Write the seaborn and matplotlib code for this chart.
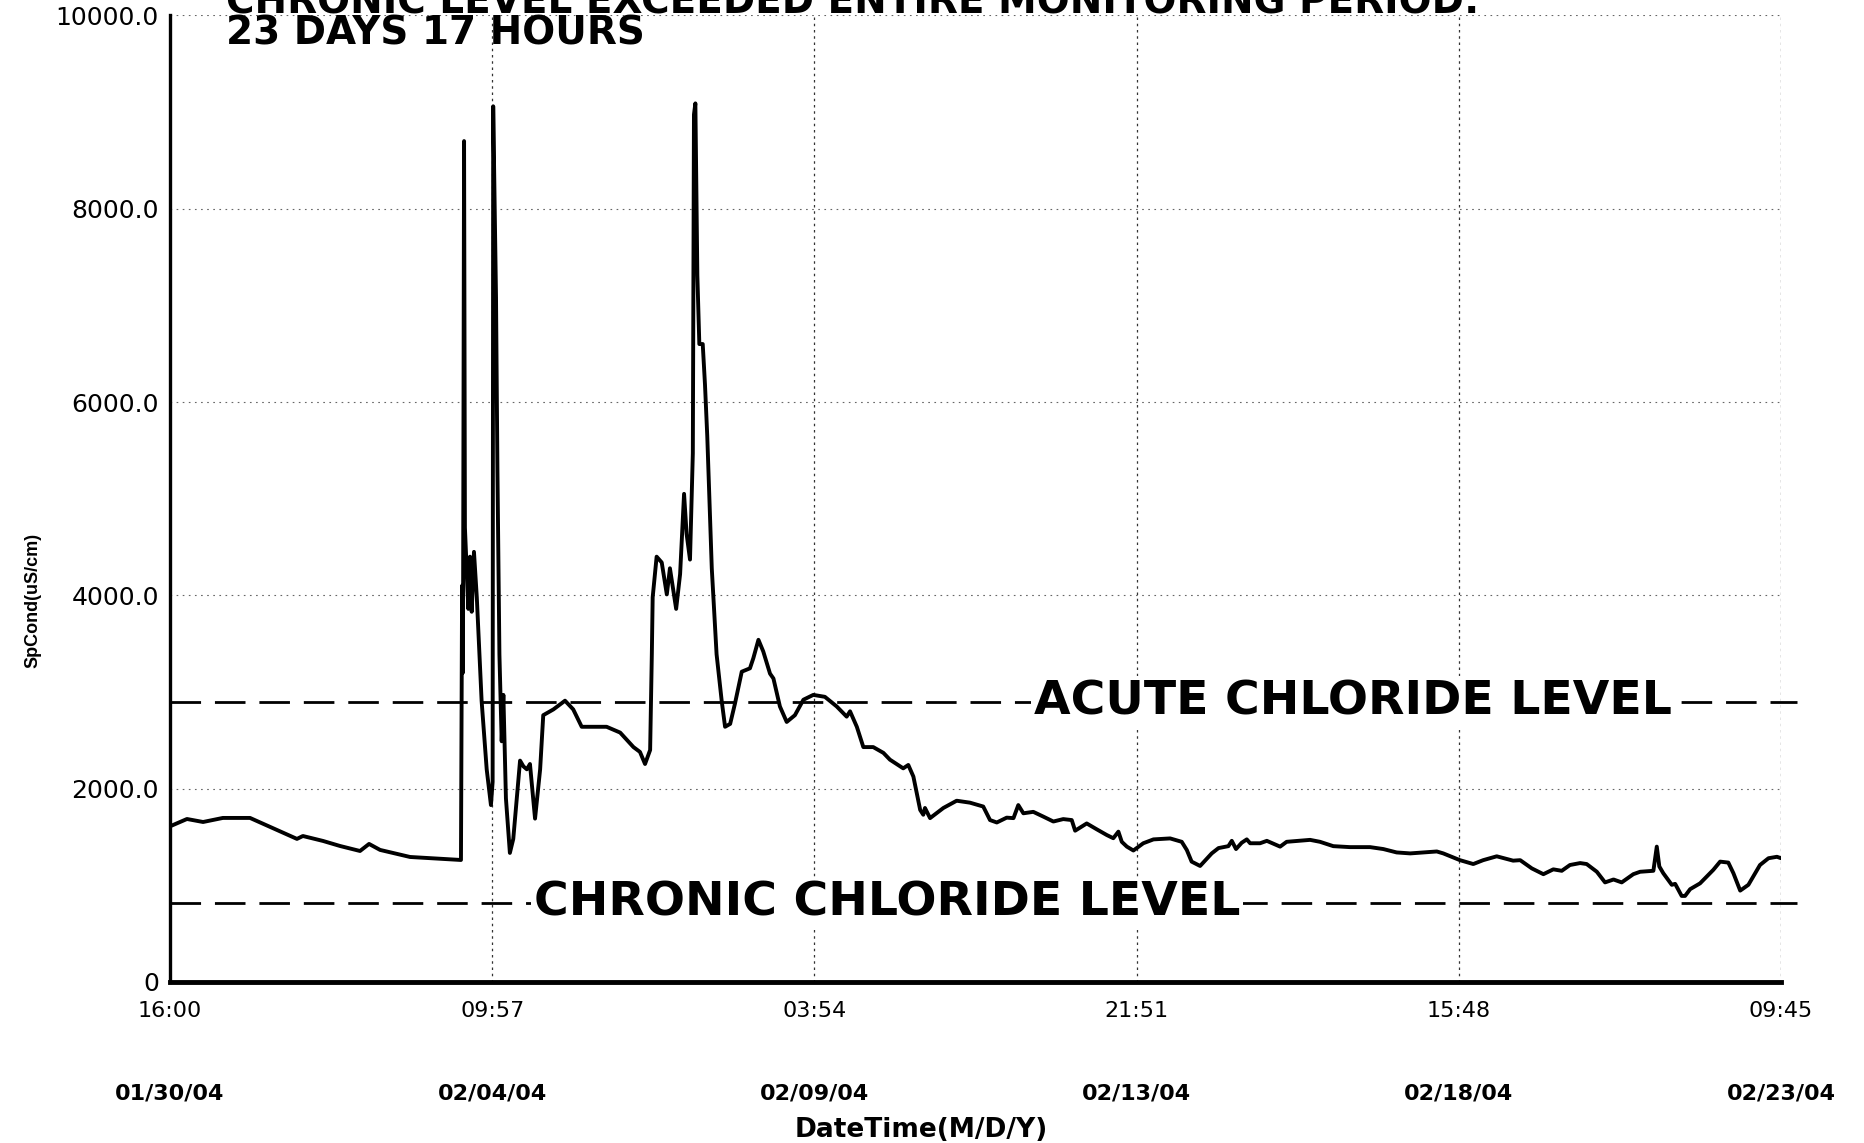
import numpy as np
import pandas as pd
import matplotlib
matplotlib.use("Agg")
import matplotlib.pyplot as plt
import matplotlib.dates as mdates
import seaborn as sns

# --- data (hours since 01/30/04 16:00, SpCond uS/cm) ---
START = "2004-01-30 16:00"
END = "2004-02-23 09:45"

hours = [
    0, 6.0, 11.7, 18.7, 28.3, 35.4, 44.9, 47.0, 54.1, 60.1, 67.2, 70.4, 74.3, 84.9, 96.6,
    102.9, 103.3, 103.6, 104.0, 104.3, 105.5, 106.1, 106.7, 107.5, 108.5, 110.2, 112.0, 113.5, 114.1,
    114.3, 115.3, 115.8, 116.5, 117.3, 117.9, 118.8, 120.2, 121.4, 123.8, 125.0, 126.2, 127.3, 129.1, 130.9, 132.0,
    135.6, 139.7, 142.6, 145.6, 149.7, 154.4, 159.2, 163.9, 166.2, 168.0, 169.8,
    170.4, 170.7, 172.1, 173.9, 175.7, 176.8, 179.0, 180.4, 181.8, 182.7, 183.9, 184.9, 185.3, 185.8, 186.5, 187.2, 188.4, 189.2, 190.0,
    191.6, 193.3, 195.1, 196.3, 198.1, 199.8, 202.2, 205.1, 206.3, 208.1, 209.8, 212.2, 213.4, 215.7, 218.1,
    221.0, 224.0, 227.5, 231.6, 235.8, 239.3, 240.5, 242.9, 245.2, 248.7, 252.3, 254.6, 259.3, 261.1, 262.9,
    265.3, 266.4, 267.0, 268.8, 273.5, 278.2, 282.9, 287.6, 290.0, 292.4, 295.9, 298.3, 300.0, 301.8, 305.3, 308.9, 312.4, 315.9, 318.9, 320.1,
    324.2, 327.7, 331.3, 333.6, 335.4, 336.6, 338.4, 340.7, 344.2, 347.8, 353.7, 357.8, 359.6, 361.3, 364.3,
    368.4, 370.8, 374.3, 375.5, 377.0, 379.0, 380.8, 382.0, 385.5, 387.9, 392.6, 394.9, 403.2, 406.7, 411.4, 417.3, 424.4, 429.1, 433.8, 438.6,
    448.0, 450.3, 456.2, 460.9, 464.4, 469.2, 475.0, 477.5, 481.6, 485.7, 489.2, 492.2, 495.1, 498.7, 501.0, 504.6, 507.5, 510.5, 513.4, 517.5, 519.9,
    524.6, 525.8, 526.7, 528.1, 531.1, 532.3, 534.6, 535.8, 537.6, 541.1, 545.8, 548.2, 551.1, 552.9, 555.3, 558.2, 562.3, 565.3, 568.3, 569.75,
]
spcond = [
    1610, 1686, 1655, 1697, 1697, 1604, 1480, 1510, 1459, 1407, 1355, 1428, 1366, 1293, 1273,
    1262, 4100, 3200, 8700, 4700, 3860, 4400, 3830, 4450, 3980, 2910, 2200, 1830, 2070,
    9060, 7080, 5290, 3390, 2490, 2970, 1900, 1335, 1480, 2290, 2230, 2200, 2255, 1690, 2200, 2760,
    2820, 2910, 2820, 2640, 2640, 2640, 2580, 2430, 2380, 2255, 2400,
    3390, 3980, 4400, 4340, 4010, 4280, 3860, 4220, 5050, 4635, 4370, 5470, 8975, 9090, 7310, 6600, 6600, 6180, 5650,
    4280, 3390, 2910, 2640, 2670, 2880, 3210, 3245, 3350, 3540, 3420, 3190, 3140, 2850, 2690,
    2760, 2920, 2970, 2950, 2850, 2745, 2800, 2640, 2430, 2430, 2370, 2300, 2210, 2245, 2125,
    1780, 1730, 1800, 1695, 1800, 1875, 1855, 1815, 1675, 1650, 1700, 1695, 1830, 1745, 1760, 1710, 1660, 1685, 1675, 1565,
    1640, 1580, 1520, 1487, 1555, 1450, 1400, 1360, 1435, 1475, 1485, 1450, 1365, 1245, 1200,
    1330, 1385, 1405, 1460, 1375, 1440, 1475, 1435, 1435, 1460, 1400, 1450, 1470, 1450, 1405, 1395, 1395, 1375, 1340, 1330,
    1350, 1330, 1260, 1220, 1260, 1300, 1255, 1260, 1175, 1115, 1165, 1150, 1210, 1230, 1220, 1140, 1030, 1060, 1030, 1115, 1140,
    1150, 1400, 1195, 1125, 1005, 1015, 890, 890, 960, 1020, 1160, 1245, 1235, 1125, 945, 1005, 1210, 1280, 1295, 1280,
]

ACUTE = 2900
CHRONIC = 820
y_ticks = [0, 2000, 4000, 6000, 8000, 10000]
y_labels = ["0", "2000.0", "4000.0", "6000.0", "8000.0", "10000.0"]
title_lines = ["CHRONIC LEVEL EXCEEDED ENTIRE MONITORING PERIOD:", "23 DAYS 17 HOURS"]

start = pd.Timestamp(START)
end = pd.Timestamp(END)
df = pd.DataFrame({"time": start + pd.to_timedelta(hours, unit="h"), "spcond": spcond})
xticks = pd.date_range(start, end, periods=6)

sns.set_style("white")
plt.rcParams["font.family"] = ["DejaVu Sans"]
plt.rcParams.update({"text.color": "black", "axes.labelcolor": "black",
                     "xtick.color": "black", "ytick.color": "black"})

fig = plt.figure(figsize=(18.64, 11.43), dpi=100)
ax = fig.add_axes([0.0912, 0.1409, 0.8643, 0.8456])
ax.set_axisbelow(True)

sns.lineplot(data=df, x="time", y="spcond", ax=ax, color="black", lw=2.8,
             estimator=None, sort=False, zorder=3)

# threshold lines
for lvl in (ACUTE, CHRONIC):
    ax.axhline(lvl, xmin=0, xmax=1.01, color="black", lw=2, ls=(0, (11, 5)),
               clip_on=False, zorder=2)

lbl_style = dict(fontsize=34, fontweight="bold", va="center", ha="left", zorder=4,
                 color="black", bbox=dict(fc="white", ec="none", pad=2),
                 transform=ax.get_yaxis_transform())
ax.text(0.536, ACUTE, "ACUTE CHLORIDE LEVEL", **lbl_style)
ax.text(0.226, CHRONIC, "CHRONIC CHLORIDE LEVEL", **lbl_style)

# axes
ax.set_xlim(start, end)
ax.set_ylim(0, 10000)
ax.set_yticks(y_ticks)
ax.set_yticklabels(y_labels)
ax.set_xticks(xticks)
ax.set_xticklabels([t.strftime("%H:%M") for t in xticks])
ax.set_xlabel("")
ax.set_ylabel("")

ax.xaxis.grid(True, color="#333333", ls=(0, (2, 3)), lw=0.9)
ax.yaxis.grid(True, color="#666666", ls=(0, (1.5, 4)), lw=0.8)

ax.tick_params(axis="x", direction="out", length=12, width=2, pad=2, labelsize=16)
ax.tick_params(axis="y", direction="out", length=6, width=2.5, pad=2, labelsize=18)
ax.spines["top"].set_visible(False)
ax.spines["right"].set_visible(False)
ax.spines["left"].set_linewidth(2.4)
ax.spines["bottom"].set_linewidth(3.5)
ax.spines["left"].set_color("black")
ax.spines["bottom"].set_color("black")

# date row under the time labels
for t in xticks:
    ax.text(mdates.date2num(t), -0.115, t.strftime("%m/%d/%y"),
            transform=ax.get_xaxis_transform(), ha="center", va="center",
            fontsize=16, fontweight="bold")

fig.text(0.494, 0.0114, "DateTime(M/D/Y)", ha="center", va="center",
         fontsize=19, fontweight="bold")
fig.text(0.0177, 0.475, "SpCond(uS/cm)", rotation=90, ha="center", va="center",
         fontsize=13, fontweight="bold", family=["Liberation Sans", "DejaVu Sans"])

# title (first line runs off the top edge in the original)
fig.text(0.121, 0.988, title_lines[0], va="baseline", ha="left", fontsize=28, fontweight="bold")
fig.text(0.121, 0.9615, title_lines[1], va="baseline", ha="left", fontsize=28, fontweight="bold")

fig.savefig("out.png", dpi=100)
